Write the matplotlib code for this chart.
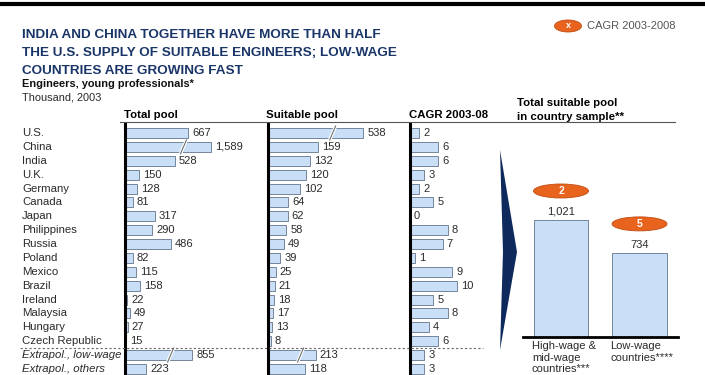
import numpy as np
import matplotlib.pyplot as plt
from matplotlib.patches import Ellipse, Polygon
from matplotlib.lines import Line2D
from matplotlib.transforms import blended_transform_factory

plt.rcParams['font.family'] = 'Liberation Sans'

countries = ['U.S.', 'China', 'India', 'U.K.', 'Germany', 'Canada', 'Japan',
             'Philippines', 'Russia', 'Poland', 'Mexico', 'Brazil', 'Ireland',
             'Malaysia', 'Hungary', 'Czech Republic',
             'Extrapol., low-wage', 'Extrapol., others']
total_pool = [667, 1589, 528, 150, 128, 81, 317, 290, 486, 82, 115, 158,
              22, 49, 27, 15, 855, 223]
suitable_pool = [538, 159, 132, 120, 102, 64, 62, 58, 49, 39, 25, 21,
                 18, 17, 13, 8, 213, 118]
cagr = [2, 6, 6, 3, 2, 5, 0, 8, 7, 1, 9, 10, 5, 8, 4, 6, 3, 3]

# bars that are cut short with a break mark: index -> drawn length
total_breaks = {1: 910, 16: 710}
suitable_breaks = {0: 300, 16: 151}

groups = ['High-wage &\nmid-wage\ncountries***', 'Low-wage\ncountries****']
group_pool = [1021, 734]
group_cagr = [2, 5]

W, H = 705, 375
BAR = '#C9DFF7'
EDGE = '#74849A'
ORANGE = '#E8641E'
NAVY = '#1A3668'
TXT = '#2A2A2A'

fig = plt.figure(figsize=(W / 100, H / 100), dpi=100)


def fx(px):
    return px / W


def fy(py):
    return 1 - py / H


# title block
title = ['INDIA AND CHINA TOGETHER HAVE MORE THAN HALF',
         'THE U.S. SUPPLY OF SUITABLE ENGINEERS; LOW-WAGE',
         'COUNTRIES ARE GROWING FAST']
for k, line in enumerate(title):
    fig.text(fx(22), fy(38 + 18 * k), line, fontsize=9.7, fontweight='bold',
             color=NAVY, va='baseline')
fig.text(fx(22), fy(84), 'Engineers, young professionals*', fontsize=7.9,
         fontweight='bold', color='#111111', va='center')
fig.text(fx(22), fy(97), 'Thousand, 2003', fontsize=7.9, color=TXT, va='center')

# legend for the orange CAGR markers
fig.patches.append(Ellipse((fx(568), fy(26)), 27 / W, 12 / H, facecolor=ORANGE,
                           edgecolor='#C04A10', lw=0.6, transform=fig.transFigure))
fig.text(fx(568), fy(26), 'x', fontsize=6.5, color='white', fontweight='bold',
         ha='center', va='center')
fig.text(fx(587), fy(26), 'CAGR 2003-2008', fontsize=8, color='#555555', va='center')

# column headers
fig.text(fx(124), fy(115), 'Total pool', fontsize=8.2, fontweight='bold', va='center')
fig.text(fx(266), fy(115), 'Suitable pool', fontsize=8.2, fontweight='bold', va='center')
fig.text(fx(409), fy(115), 'CAGR 2003-08', fontsize=8.2, fontweight='bold', va='center')
fig.text(fx(517), fy(103), 'Total suitable pool', fontsize=8.2, fontweight='bold', va='center')
fig.text(fx(517), fy(117), 'in country sample**', fontsize=8.2, fontweight='bold', va='center')
fig.lines.append(Line2D([fx(120), fx(675)], [fy(122), fy(122)], color='#555555',
                        lw=0.8, transform=fig.transFigure))

# row layout: row i centred at 133 + 13.88*i px
pitch = 13.88
y_top = (124 - 133) / pitch
y_bot = (375 - 133) / pitch
rows = np.arange(len(countries))


def bar_panel(left_px, width_px, scale, values, breaks):
    ax = fig.add_axes([fx(left_px), 0, width_px / W, fy(124)])
    ax.set_xlim(0, width_px / scale)
    ax.set_ylim(y_bot, y_top)
    for s in ['top', 'right', 'bottom']:
        ax.spines[s].set_visible(False)
    ax.spines['left'].set_linewidth(2.2)
    ax.spines['left'].set_zorder(5)
    ax.set_xticks([])
    ax.set_yticks([])
    ax.patch.set_alpha(0)
    shown = [breaks.get(i, v) for i, v in enumerate(values)]
    ax.barh(rows, shown, height=0.72, color=BAR, edgecolor=EDGE, lw=0.7)
    for i, v in enumerate(values):
        ax.annotate(f'{v:,}', (shown[i], i), xytext=(4, 0),
                    textcoords='offset pixels', va='center', fontsize=8, color=TXT)
    for i, s in breaks.items():
        xb = s * 0.68
        d = 3 / scale
        ax.plot([xb - d, xb + d], [i + 0.5, i - 0.5], color='white', lw=2.4,
                solid_capstyle='butt')
        ax.plot([xb - d, xb + d], [i + 0.5, i - 0.5], color='#6E6E6E', lw=0.8)
    return ax


ax1 = bar_panel(125, 135, 0.0945, total_pool, total_breaks)
ax2 = bar_panel(268, 135, 0.317, suitable_pool, suitable_breaks)
ax3 = bar_panel(410, 70, 4.7, cagr, {})

# country names and the separator above the extrapolated rows
tr = blended_transform_factory(fig.transFigure, ax1.transData)
for i, name in enumerate(countries):
    style = 'italic' if name.startswith('Extrapol') else 'normal'
    fig.text(fx(22), i, name, fontsize=8.2, color=TXT, va='center',
             style=style, transform=tr)
fig.lines.append(Line2D([fx(20), fx(483)], [15.5, 15.5], color='#666666', lw=0.8,
                        ls=(0, (2, 2)), transform=tr))

# chevron pointing to the summary bars
fig.patches.append(Polygon([(fx(500), fy(150)), (fx(517), fy(252)), (fx(500), fy(350)),
                            (fx(503), fy(252))], closed=True, facecolor='#0E2A5C',
                           edgecolor='none', transform=fig.transFigure))

# summary panel
ax4 = fig.add_axes([fx(523), fy(337), 155 / W, 187 / H])
ax4.set_xlim(-0.484, 1.49)
ax4.set_ylim(0, 187 / 0.1146)
for s in ['top', 'right', 'left']:
    ax4.spines[s].set_visible(False)
ax4.spines['bottom'].set_linewidth(2)
ax4.set_xticks([])
ax4.set_yticks([])
ax4.patch.set_alpha(0)
pos = np.arange(len(groups))
bw = 0.69
ax4.bar(pos, group_pool, width=bw, color=BAR, edgecolor=EDGE, lw=0.7)
for p, v, c, g in zip(pos, group_pool, group_cagr, groups):
    ax4.annotate(f'{v:,}', (p, v), xytext=(0, 8), textcoords='offset pixels',
                 ha='center', va='center', fontsize=8, color=TXT)
    ax4.add_patch(Ellipse((p, v + 29 / 0.1146), 0.70, 14 / 0.1146, facecolor=ORANGE,
                          edgecolor='#C04A10', lw=0.6, clip_on=False))
    ax4.text(p, v + 29 / 0.1146, str(c), color='white', fontsize=7.5,
             fontweight='bold', ha='center', va='center')
    ax4.annotate(g, (p - bw / 2, 0), xytext=(-2, -4), textcoords='offset pixels',
                 ha='left', va='top', fontsize=8, color=TXT, linespacing=1.2)

# rule across the top
fig.lines.append(Line2D([0, 1], [fy(4), fy(4)], color='black', lw=3,
                        transform=fig.transFigure))

fig.savefig('out.png', dpi=100)
